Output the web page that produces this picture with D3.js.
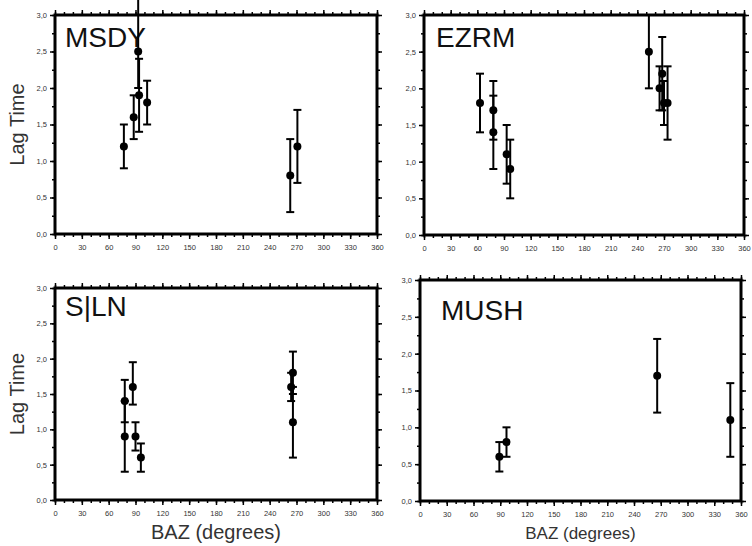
<!DOCTYPE html>
<html>
<head>
<meta charset="utf-8">
<script src="https://cdn.jsdelivr.net/npm/d3@7"></script>
<style>
body{margin:0;background:#fff;}
svg{display:block;font-family:"Liberation Sans",Arial,Helvetica,sans-serif;}
</style>
</head>
<body>
<svg id="drawarea"></svg>
<script>
var stations = ["MSDY", "EZRM", "S|LN", "MUSH"];

var xTicks = [0,30,60,90,120,150,180,210,240,270,300,330,360];
var xTickLabels = ["0","30","60","90","120","150","180","210","240","270","300","330","360"];
var yTicks = [0,0.5,1,1.5,2,2.5,3];
var yTickLabels = ["0,0","0,5","1,0","1,5","2,0","2,5","3,0"];

// MSDY
var msdy_baz = [77, 88, 93, 94, 103, 263, 271];
var msdy_lag = [1.2, 1.6, 2.5, 1.9, 1.8, 0.8, 1.2];
var msdy_lo  = [0.9, 1.3, 2.0, 1.4, 1.5, 0.3, 0.7];
var msdy_hi  = [1.5, 1.9, 3.25, 2.4, 2.1, 1.3, 1.7];

// EZRM
var ezrm_baz = [63, 78, 78, 93, 97, 253, 265, 268, 270, 274];
var ezrm_lag = [1.8, 1.7, 1.4, 1.1, 0.9, 2.5, 2.0, 2.2, 1.8, 1.8];
var ezrm_lo  = [1.4, 1.3, 0.9, 0.7, 0.5, 2.0, 1.7, 1.7, 1.5, 1.3];
var ezrm_hi  = [2.2, 2.1, 1.9, 1.5, 1.3, 3.0, 2.3, 2.7, 2.1, 2.3];

// S|LN
var siln_baz = [78, 78, 87, 90, 96, 264, 266, 266];
var siln_lag = [1.4, 0.9, 1.6, 0.9, 0.6, 1.6, 1.8, 1.1];
var siln_lo  = [1.1, 0.4, 1.35, 0.7, 0.4, 1.4, 1.5, 0.6];
var siln_hi  = [1.7, 1.4, 1.95, 1.1, 0.8, 1.8, 2.1, 1.6];

// MUSH
var mush_baz = [89, 97, 266, 348];
var mush_lag = [0.6, 0.8, 1.7, 1.1];
var mush_lo  = [0.4, 0.6, 1.2, 0.6];
var mush_hi  = [0.8, 1.0, 2.2, 1.6];

var series = [
    [msdy_baz, msdy_lag, msdy_lo, msdy_hi],
    [ezrm_baz, ezrm_lag, ezrm_lo, ezrm_hi],
    [siln_baz, siln_lag, siln_lo, siln_hi],
    [mush_baz, mush_lag, mush_lo, mush_hi]
];

/* panel frames (px) and which axis titles they carry */
var panels = [
    {left:55,  right:377, top:15,  bottom:234, titleX:65,  titleY:47,  ylab:true,  xlab:false, xlabSize:20},
    {left:424, right:744, top:15,  bottom:235, titleX:436, titleY:47,  ylab:false, xlab:false, xlabSize:20},
    {left:55,  right:377, top:288, bottom:500, titleX:65,  titleY:316, ylab:true,  xlab:true,  xlabSize:20},
    {left:420, right:741, top:280, bottom:501, titleX:441, titleY:320, ylab:false, xlab:true,  xlabSize:17}
];

var svg = d3.select("#drawarea").attr("width", 752).attr("height", 546);

function minorTicks(step, max){
    var t = [];
    for(var v = 0; v <= max + 1e-9; v += step) t.push(+v.toFixed(3));
    return t;
}

function drawPanel(p, st, d){
    var x = d3.scaleLinear().domain([0,360]).range([p.left,p.right]);
    var y = d3.scaleLinear().domain([0,3]).range([p.bottom,p.top]);
    var g = svg.append("g");

    function styleAxis(sel){
        sel.select(".domain").remove();
        sel.selectAll("line").attr("stroke","#000").attr("stroke-width",1.5);
        sel.selectAll("text").attr("font-size","7.5px").attr("fill","#333")
            .attr("font-family","'Liberation Sans',Arial,sans-serif");
    }

    // minor ticks on all four sides
    g.append("g").attr("transform","translate(0,"+p.bottom+")")
        .call(d3.axisBottom(x).tickValues(minorTicks(10,360)).tickSize(3).tickFormat(""))
        .call(styleAxis);
    g.append("g").attr("transform","translate(0,"+p.top+")")
        .call(d3.axisTop(x).tickValues(minorTicks(10,360)).tickSize(3).tickFormat(""))
        .call(styleAxis);
    g.append("g").attr("transform","translate("+p.left+",0)")
        .call(d3.axisLeft(y).tickValues(minorTicks(0.25,3)).tickSize(3).tickFormat(""))
        .call(styleAxis);
    g.append("g").attr("transform","translate("+p.right+",0)")
        .call(d3.axisRight(y).tickValues(minorTicks(0.25,3)).tickSize(3).tickFormat(""))
        .call(styleAxis);

    // major ticks
    g.append("g").attr("transform","translate(0,"+p.bottom+")")
        .call(d3.axisBottom(x).tickValues(xTicks).tickSize(5).tickPadding(6)
            .tickFormat(function(v,i){ return xTickLabels[i]; }))
        .call(styleAxis);
    g.append("g").attr("transform","translate(0,"+p.top+")")
        .call(d3.axisTop(x).tickValues(xTicks).tickSize(5).tickFormat(""))
        .call(styleAxis);
    g.append("g").attr("transform","translate("+p.left+",0)")
        .call(d3.axisLeft(y).tickValues(yTicks).tickSize(5).tickPadding(3)
            .tickFormat(function(v,i){ return yTickLabels[i]; }))
        .call(styleAxis);
    g.append("g").attr("transform","translate("+p.right+",0)")
        .call(d3.axisRight(y).tickValues(yTicks).tickSize(5).tickFormat(""))
        .call(styleAxis);

    // frame
    g.append("rect")
        .attr("x", p.left).attr("y", p.top)
        .attr("width", p.right - p.left).attr("height", p.bottom - p.top)
        .attr("fill","none").attr("stroke","#000").attr("stroke-width",3);

    // station name
    g.append("text")
        .attr("x", p.titleX).attr("y", p.titleY)
        .attr("font-size","28px").attr("fill","#111")
        .text(st);

    var pts = d[0].map(function(b,i){
        return {baz:b, lag:d[1][i], lo:d[2][i], hi:d[3][i]};
    });

    var bars = g.append("g").attr("stroke","#000").attr("stroke-width",2);
    pts.forEach(function(o){
        bars.append("line")
            .attr("x1", x(o.baz)).attr("x2", x(o.baz))
            .attr("y1", y(o.lo)).attr("y2", y(o.hi));
        bars.append("line")
            .attr("x1", x(o.baz)-4).attr("x2", x(o.baz)+4)
            .attr("y1", y(o.lo)).attr("y2", y(o.lo));
        if(o.hi <= 3){
            bars.append("line")
                .attr("x1", x(o.baz)-4).attr("x2", x(o.baz)+4)
                .attr("y1", y(o.hi)).attr("y2", y(o.hi));
        }
    });

    g.selectAll("circle.pt").data(pts).enter()
        .append("circle")
        .attr("class","pt")
        .attr("cx", function(o){ return x(o.baz); })
        .attr("cy", function(o){ return y(o.lag); })
        .attr("r", 4)
        .attr("fill","#000");

    if(p.ylab){
        var cy = (p.top + p.bottom) / 2;
        g.append("text")
            .attr("transform","translate(24,"+cy+") rotate(-90)")
            .attr("text-anchor","middle")
            .attr("font-size","20px").attr("fill","#333")
            .text("Lag Time");
    }
    if(p.xlab){
        g.append("text")
            .attr("x", (p.left + p.right) / 2).attr("y", 539)
            .attr("text-anchor","middle")
            .attr("font-size", p.xlabSize + "px").attr("fill","#333")
            .text("BAZ (degrees)");
    }
}

panels.forEach(function(p, i){
    drawPanel(p, stations[i], series[i]);
});
</script>
</body>
</html>
